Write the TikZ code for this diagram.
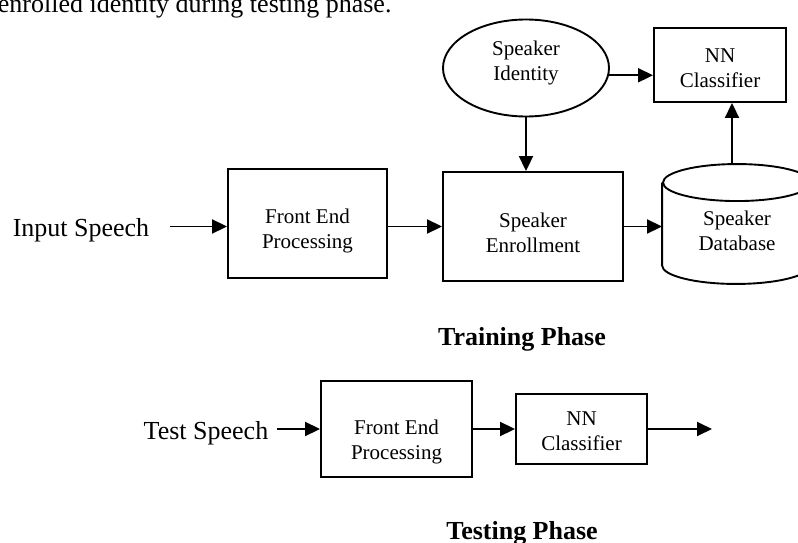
\documentclass[tikz,border=0pt]{standalone}
\usepackage{fontspec}
\setmainfont{Liberation Serif}
\usetikzlibrary{arrows.meta, shapes.geometric}

\begin{document}
\begin{tikzpicture}[x=1pt, y=-1pt, line width=1.9pt,
    block/.style={draw, rectangle, inner sep=0pt},
    txt/.style={font=\fontsize{21}{25}\selectfont, align=center, inner sep=0pt},
    big/.style={font=\fontsize{26}{30}\selectfont, inner sep=0pt},
    phase/.style={font=\bfseries\fontsize{26}{30}\selectfont, inner sep=0pt},
    arr/.style={-{Triangle[length=15pt, width=14pt]}}]
  \useasboundingbox (0,0) rectangle (798,543);

  % last line of the text above
  \node[big, anchor=base west] (caption) at (-3,12.5) {enrolled identity during testing phase.};

  % training phase
  \node[big, anchor=base] (inspeech) at (81,236) {Input Speech};
  \node[block, minimum width=159pt, minimum height=109pt,
        label={[txt, yshift=-7pt]center:Front End\\Processing}] (fep1) at (307.5,223.5) {};
  \node[block, minimum width=180pt, minimum height=109pt,
        label={[txt, yshift=-6pt]center:Speaker\\Enrollment}] (spkenr) at (533,226.5) {};
  \node[draw, ellipse, minimum width=166pt, minimum height=97pt, inner sep=0pt,
        label={[txt, yshift=5pt]center:Speaker\\Identity}] (spkid) at (526,68) {};
  \node[block, minimum width=132pt, minimum height=74pt,
        label={[txt, yshift=-3pt]center:NN\\Classifier}] (nn1) at (720,65) {};
  \node[minimum width=148pt, minimum height=118pt, inner sep=0pt,
        label={[txt, yshift=-7pt]center:Speaker\\Database}] (db) at (737,224) {};

  % database drum
  \draw ([yshift=-18.5pt]db.north) ellipse [x radius=74pt, y radius=18.5pt];
  \draw ([yshift=-18.5pt]db.north west) -- ([yshift=18.5pt]db.south west)
        arc[start angle=180, end angle=360, x radius=74pt, y radius=18.5pt]
        -- ([yshift=-18.5pt]db.north east);

  \draw[arr, shorten <=20pt] (inspeech.east |- spkenr.west) -- (fep1.west |- spkenr.west);
  \draw[arr] (fep1.east |- spkenr.west) -- (spkenr.west);
  \draw[arr] (spkenr.east) -- (spkenr.east -| db.west);
  \draw[arr] (spkid.south) -- (spkid.south |- spkenr.north);
  \draw[arr] (spkid.-5) -- (spkid.-5 -| nn1.west);
  \draw[arr] ([xshift=-5pt]db.north) -- ([xshift=-5pt]db.north |- nn1.south);

  \node[phase, anchor=base] (trainlbl) at (522,345) {Training Phase};

  % testing phase
  \node[big, anchor=base] (tstspeech) at (206,439) {Test Speech};
  \node[block, minimum width=151pt, minimum height=96pt,
        label={[txt, yshift=-13pt]center:Front End\\Processing}] (fep2) at (396.5,429) {};
  \node[block, minimum width=131pt, minimum height=70pt,
        label={[txt, yshift=-2pt]center:NN\\Classifier}] (nn2) at (581.5,429) {};
  \coordinate (result) at (712,429);

  \draw[arr, shorten <=8pt] (tstspeech.east |- fep2.west) -- (fep2.west);
  \draw[arr] (fep2.east) -- (nn2.west);
  \draw[arr] (nn2.east) -- (result);

  \node[phase, anchor=base] (testlbl) at (522,539) {Testing Phase};
\end{tikzpicture}
\end{document}
